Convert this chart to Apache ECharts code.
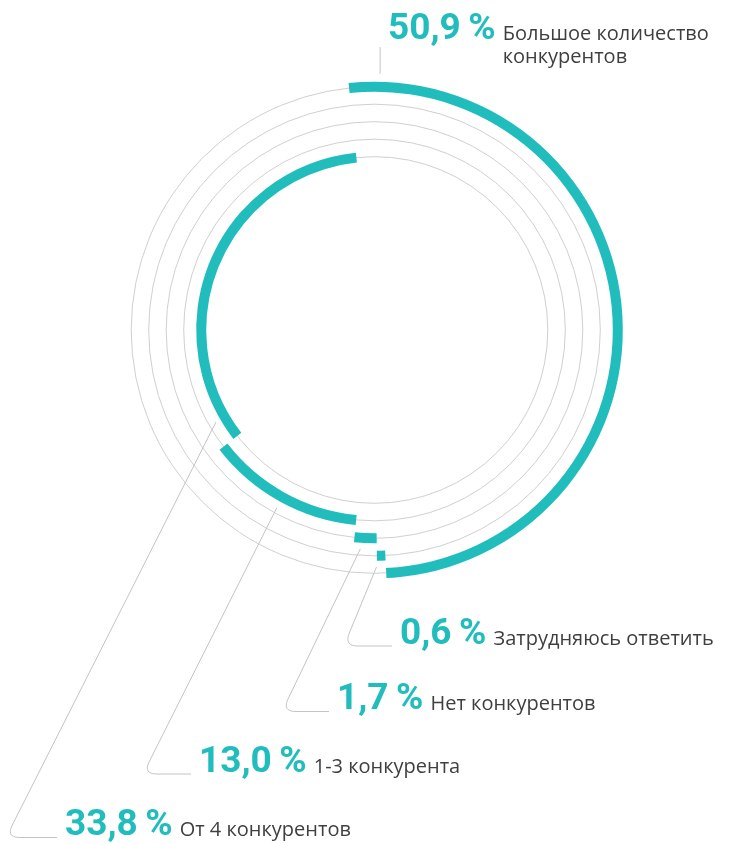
<!DOCTYPE html>
<html>
<head>
<meta charset="utf-8">
<script src="https://cdn.jsdelivr.net/npm/echarts@6/dist/echarts.min.js"></script>
<style>
  html, body { margin: 0; padding: 0; background: #fff; }
  #chart { width: 738px; height: 844px; }
</style>
</head>
<body>
<div id="chart"></div>
<script>
// rings from the outer one to the inner one
const categories = ['Большое количество\nконкурентов', 'Затрудняюсь ответить', 'Нет конкурентов', '1-3 конкурента', 'От 4 конкурентов']
const values = [50.9, 0.6, 1.7, 13.0, 33.8]

const TEAL = '#21bdbd'
const RING = '#d0d0d0'
const LINE = '#c4c4c4'
const TEXT = '#3f3f3f'
const CENTER = [374.5, 330]

// each ring starts where the previous one stopped
const offsets = values.map((v, i) => +values.slice(0, i).reduce((a, b) => a + b, 0).toFixed(1))

// where the captions sit: x of the percent, text baseline, leader corner x, point on the arc (share of its length)
const labelPos = [
  { x: 388, base: 42.5, corner: null, anchor: 0.04 },
  { x: 400, base: 647, corner: 344, anchor: 0.5 },
  { x: 337, base: 712.5, corner: 282, anchor: 0.5 },
  { x: 199, base: 775, corner: 143, anchor: 0.5 },
  { x: 65, base: 838.5, corner: 6, anchor: 0.08 },
]

const PCT_SIZE = 37
const DESC_SIZE = 20
const PCT_FONT = 'bold ' + PCT_SIZE + 'px Roboto'
const DESC_FONT = DESC_SIZE + 'px "Open Sans"'

const chart = echarts.init(document.getElementById('chart'))

chart.setOption({
  animation: false,
  backgroundColor: '#fff',
  polar: {
    center: CENTER,
    radius: [173.3, 243.3],
  },
  angleAxis: {
    type: 'value',
    min: 0,
    max: 100,
    startAngle: 96,
    clockwise: true,
    axisLine: { show: false },
    axisTick: { show: false },
    axisLabel: { show: false },
    splitLine: { show: false },
  },
  radiusAxis: {
    type: 'category',
    data: categories,
    inverse: true,
    boundaryGap: false,
    axisLine: { show: false },
    axisTick: { show: false, interval: 0 },
    axisLabel: { show: false, interval: 0 },
    splitLine: {
      show: true,
      interval: 0,
      lineStyle: { color: RING, width: 1 },
    },
  },
  series: [
    {
      type: 'bar',
      coordinateSystem: 'polar',
      stack: 'ring',
      data: offsets,
      barWidth: 10,
      clip: false,
      itemStyle: { color: 'transparent' },
      silent: true,
    },
    {
      type: 'bar',
      coordinateSystem: 'polar',
      stack: 'ring',
      data: values,
      barWidth: 10,
      clip: false,
      itemStyle: { color: TEAL },
      silent: true,
    },
  ],
})

// captions and leader lines
const ctx = document.createElement('canvas').getContext('2d')
function textWidth(str, font) {
  ctx.font = font
  return ctx.measureText(str).width
}

// text block whose first line sits on the given baseline
// mid = distance from the middle of the line box down to the baseline, in em
function textAt(x, base, str, font, size, color, lineHeight, mid) {
  return {
    type: 'text',
    x: x,
    y: base - lineHeight / 2 - mid * size,
    silent: true,
    style: {
      text: str,
      font: font,
      fill: color,
      lineHeight: lineHeight,
      align: 'left',
      verticalAlign: 'top',
    },
  }
}

function roundedCorner(a, c, b, r, steps) {
  const la = Math.hypot(a[0] - c[0], a[1] - c[1])
  const lb = Math.hypot(b[0] - c[0], b[1] - c[1])
  const p0 = [c[0] + (a[0] - c[0]) / la * r, c[1] + (a[1] - c[1]) / la * r]
  const p2 = [c[0] + (b[0] - c[0]) / lb * r, c[1] + (b[1] - c[1]) / lb * r]
  const pts = []
  for (let k = 0; k <= steps; k++) {
    const t = k / steps
    pts.push([
      (1 - t) * (1 - t) * p0[0] + 2 * (1 - t) * t * c[0] + t * t * p2[0],
      (1 - t) * (1 - t) * p0[1] + 2 * (1 - t) * t * c[1] + t * t * p2[1],
    ])
  }
  return pts
}

const graphics = []
values.forEach((v, i) => {
  const pos = labelPos[i]
  const pct = v.toFixed(1).replace('.', ',') + '\u2009%'
  const pctW = textWidth(pct, PCT_FONT)

  graphics.push(textAt(pos.x, pos.base, pct, PCT_FONT, PCT_SIZE, TEAL, PCT_SIZE, 0.342))
  graphics.push(textAt(pos.x + pctW + 7, pos.base, categories[i], DESC_FONT, DESC_SIZE, TEXT, 23, 0.388))

  // point on the arc the leader aims at
  const p = chart.convertToPixel({ polarIndex: 0 }, [i, offsets[i] + v * pos.anchor])
  if (!p) return

  let points
  if (pos.corner === null) {
    points = [[p[0], p[1] - 13], [p[0], pos.base + 4.5]]
  } else {
    const lineY = pos.base - 1
    const corner = [pos.corner, lineY]
    const end = [pos.x - 8, lineY]
    const dx = corner[0] - p[0]
    const dy = corner[1] - p[1]
    const len = Math.hypot(dx, dy)
    const start = [p[0] + dx / len * 12, p[1] + dy / len * 12]
    points = [start].concat(roundedCorner(start, corner, end, 14, 10), [end])
  }
  graphics.push({
    type: 'polyline',
    silent: true,
    shape: { points: points },
    style: { stroke: LINE, lineWidth: 1, fill: null },
  })
})

chart.setOption({ graphic: graphics })
</script>
</body>
</html>
